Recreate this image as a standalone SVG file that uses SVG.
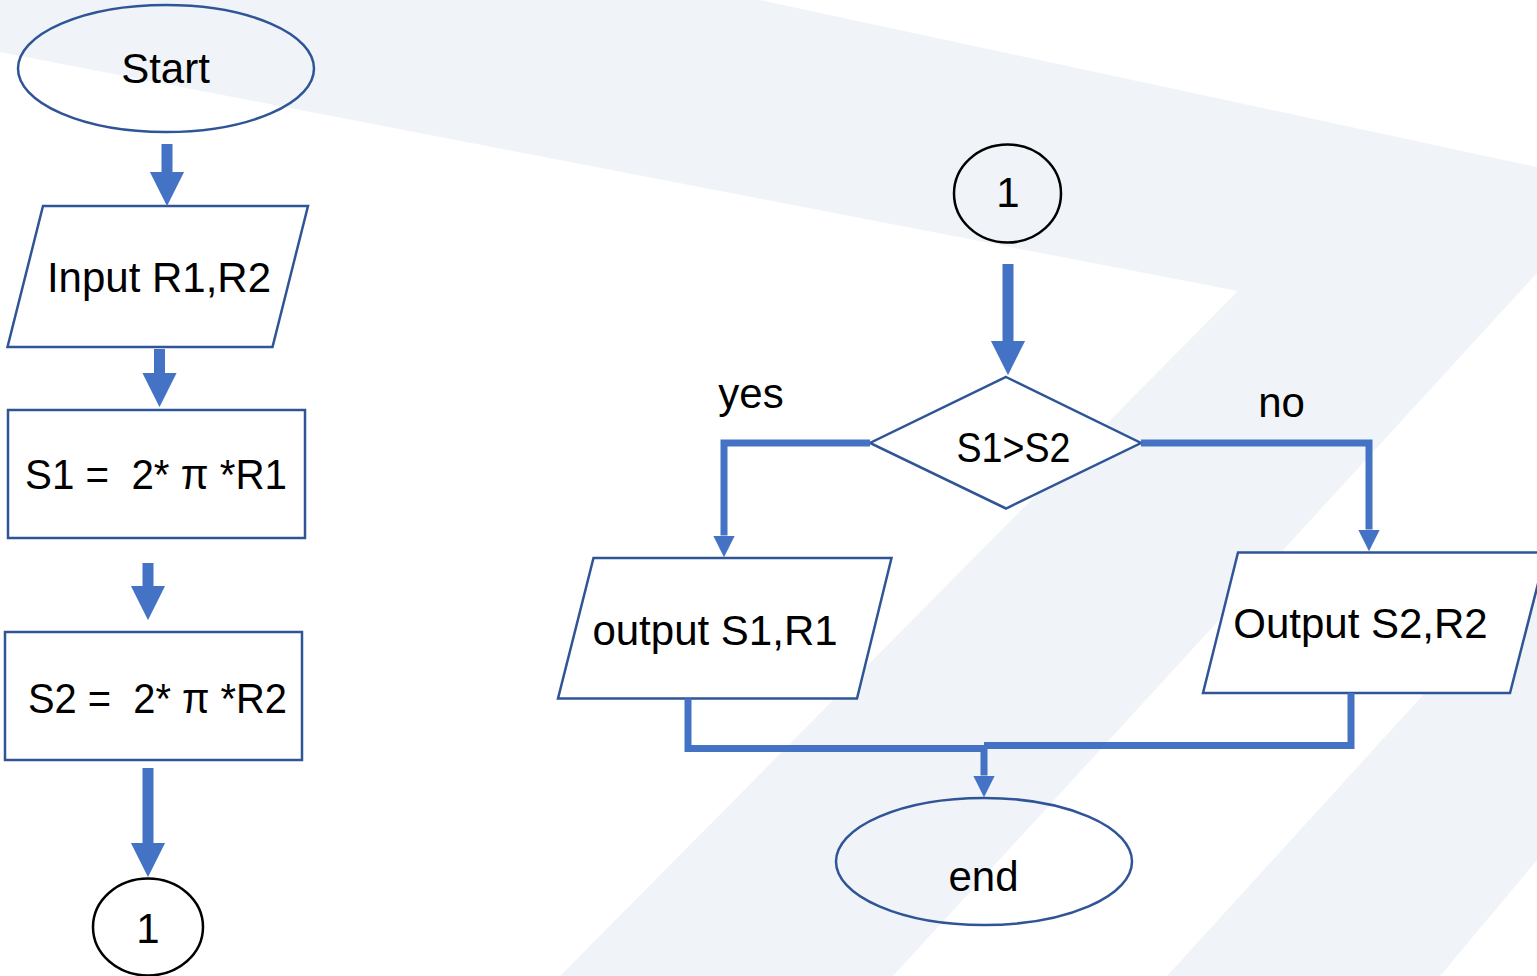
<svg xmlns="http://www.w3.org/2000/svg" width="1537" height="976" viewBox="0 0 1537 976">
  <style>
    .bg { fill: #F0F4F8; stroke: none; }
    .node { stroke: #2F5597; stroke-width: 2.5; }
    .white { fill: #FFFFFF; }
    .clear { fill: none; }
    .conn-c { fill: none; stroke: #000000; stroke-width: 2.5; }
    .lbl { font-family: "Liberation Sans", Arial, sans-serif; font-size: 42px; fill: #000000; text-anchor: middle; white-space: pre; }
    .thick { fill: none; stroke: #4472C4; stroke-width: 11; marker-end: url(#ah); }
    .thin { fill: none; stroke: #4472C4; stroke-width: 7; stroke-linejoin: miter; }
    .thin-a { marker-end: url(#ah); }
  </style>
  <defs>
    <marker id="ah" viewBox="0 0 10 10" refX="0" refY="5" markerWidth="3.1" markerHeight="3.2" orient="auto" markerUnits="strokeWidth">
      <path d="M0,0 L10,5 L0,10 Z" fill="#4472C4"/>
    </marker>
  </defs>

  <rect x="0" y="0" width="1537" height="976" fill="#FFFFFF"/>
  <g id="background">
    <polygon class="bg" points="0,0 760,0 1537,167 1537,273 893,976 560,976 1238,291 0,52"/>
    <polygon class="bg" points="1167,976 1537,570 1537,860 1440,976"/>
  </g>

  <g id="start">
    <ellipse class="node clear" cx="166" cy="68.5" rx="148" ry="63.5"/>
    <text class="lbl" x="165.5" y="83">Start</text>
  </g>
  <g id="input">
    <polygon class="node white" points="43,206 308,206 272.5,347 7.5,347"/>
    <text class="lbl" x="159" y="292">Input R1,R2</text>
  </g>
  <g id="s1">
    <rect class="node white" x="8" y="410" width="297" height="128"/>
    <text class="lbl" x="156" y="489" textLength="262" lengthAdjust="spacingAndGlyphs">S1 =  2* π *R1</text>
  </g>
  <g id="s2">
    <rect class="node white" x="5" y="632" width="297" height="128"/>
    <text class="lbl" x="157.5" y="713" textLength="259" lengthAdjust="spacingAndGlyphs">S2 =  2* π *R2</text>
  </g>
  <g id="conn-out">
    <ellipse class="conn-c" cx="148" cy="927" rx="55" ry="48.5"/>
    <text class="lbl" x="148" y="943">1</text>
  </g>
  <g id="conn-in">
    <ellipse class="conn-c" cx="1007.5" cy="193.5" rx="53.5" ry="49"/>
    <text class="lbl" x="1008" y="207">1</text>
  </g>
  <g id="decision">
    <polygon class="node white" points="1006,377 1141,443 1006,508.5 870,443"/>
    <text class="lbl" x="1013.5" y="462" textLength="114" lengthAdjust="spacingAndGlyphs">S1&gt;S2</text>
  </g>
  <g id="out1">
    <polygon class="node white" points="593.5,558 891.5,558 857,698.5 558,698.5"/>
    <text class="lbl" x="715" y="645">output S1,R1</text>
  </g>
  <g id="out2">
    <polygon class="node white" points="1238,552.5 1546,552.5 1510,693 1203,693"/>
    <text class="lbl" x="1360.5" y="638">Output S2,R2</text>
  </g>
  <g id="end">
    <ellipse class="node clear" cx="984" cy="861.5" rx="148" ry="63.5"/>
    <text class="lbl" x="983.5" y="891">end</text>
  </g>

  <g id="connectors">
    <path class="thick" d="M167,144 V172"/>
    <path class="thick" d="M159.5,349 V373"/>
    <path class="thick" d="M148,563 V586"/>
    <path class="thick" d="M148,768 V843"/>
    <path class="thick" d="M1008,264 V341"/>
    <path class="thin thin-a" d="M870,443 H724 V535.5"/>
    <path class="thin thin-a" d="M1141,443 H1369 V529.5"/>
    <path class="thin" d="M688,698.5 V748.5 H984"/>
    <path class="thin" d="M1351,693 V745.5 H984"/>
    <path class="thin thin-a" d="M984,745 V775.5"/>
    <text class="lbl" x="751" y="408">yes</text>
    <text class="lbl" x="1281.5" y="417">no</text>
  </g>
</svg>
